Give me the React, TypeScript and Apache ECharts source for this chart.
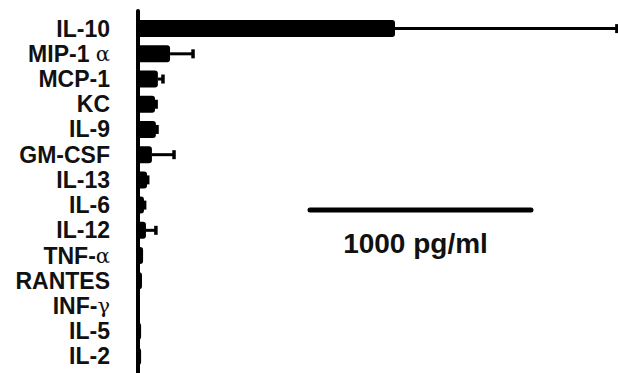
import React, { useEffect, useRef } from "react";
import * as echarts from "echarts";

const categories = [
  "IL-10", "MIP-1 α", "MCP-1", "KC", "IL-9", "GM-CSF", "IL-13",
  "IL-6", "IL-12", "TNF-α", "RANTES", "INF-γ", "IL-5", "IL-2",
];
const means = [1163, 145, 90, 77, 81, 63, 41, 27, 36, 23, 18, 9, 14, 14];
const errors = [1004, 104, 23, 5, 5, 100, 3, 3, 45, 0, 0, 0, 0, 0];
const scaleBarValue = 1000;
const scaleBarLabel = "1000 pg/ml";
const axisMax = 2172;

export default function App() {
  const ref = useRef<HTMLDivElement>(null);
  useEffect(() => {
    if (!ref.current) return;
    const chart = echarts.init(ref.current, null, { renderer: "svg" });
    const font = "'Liberation Sans', Arial, sans-serif";
    chart.setOption({
      animation: false,
      backgroundColor: "#ffffff",
      grid: { left: 138, right: 0, top: 16, bottom: 4, containLabel: false },
      xAxis: {
        type: "value",
        min: 0,
        max: axisMax,
        show: false,
      },
      yAxis: {
        type: "category",
        data: categories,
        inverse: true,
        axisLine: { show: false },
        axisTick: { show: false },
        axisLabel: {
          interval: 0,
          hideOverlap: false,
          margin: 28,
          fontFamily: font,
          fontWeight: "bold",
          fontSize: 23,
          lineHeight: 22,
          color: "#111",
          formatter: (v: string) => v.replace(/([αγ])/, "{g|$1}"),
          rich: {
            g: {
              fontFamily: "'DejaVu Serif', 'Liberation Serif', serif",
              fontWeight: "normal",
              fontSize: 21,
              lineHeight: 22,
              verticalAlign: "bottom",
              color: "#111",
            },
          },
        },
      },
      series: [
        {
          type: "bar",
          data: means,
          barWidth: 17,
          itemStyle: { color: "#000", borderRadius: [0, 3, 3, 0] },
          z: 2,
        },
        {
          type: "custom",
          data: means.map((m, i) => [m, i, m + errors[i]]),
          encode: { x: [0, 2], y: 1 },
          clip: false,
          z: 3,
          renderItem: (params: any, api: any) => {
            const lo = api.value(0);
            const hi = api.value(2);
            if (hi <= lo) return { type: "group", children: [] };
            const s = api.coord([lo, api.value(1)]);
            const e = api.coord([hi, api.value(1)]);
            return {
              type: "group",
              children: [
                {
                  type: "line",
                  shape: { x1: s[0], y1: s[1], x2: e[0], y2: e[1] },
                  style: { stroke: "#000", lineWidth: 3 },
                },
                {
                  type: "line",
                  shape: { x1: e[0], y1: e[1] - 4.5, x2: e[0], y2: e[1] + 4.5 },
                  style: { stroke: "#000", lineWidth: 3.5 },
                },
              ],
            };
          },
        },
      ],
    });
    const x0 = chart.convertToPixel({ xAxisIndex: 0 }, 0) as number;
    const x1 = chart.convertToPixel({ xAxisIndex: 0 }, scaleBarValue) as number;
    const barLen = x1 - x0;
    const barLeft = 310;
    chart.setOption({
      graphic: [
        {
          type: "line",
          shape: { x1: x0, y1: 11, x2: x0, y2: 373 },
          style: { stroke: "#000", lineWidth: 4, lineCap: "round" },
          z: 10,
        },
        {
          type: "line",
          shape: { x1: barLeft, y1: 210, x2: barLeft + barLen, y2: 210 },
          style: { stroke: "#000", lineWidth: 5, lineCap: "round" },
        },
        {
          type: "text",
          x: barLeft + barLen / 2 - 5,
          y: 243,
          style: {
            text: scaleBarLabel,
            fontFamily: font,
            fontWeight: "bold",
            fontSize: 28,
            fill: "#111",
            align: "center",
            verticalAlign: "middle",
          },
        },
      ],
    });
    return () => chart.dispose();
  }, []);
  return (
    <div
      ref={ref}
      style={{ position: "fixed", left: 0, top: 0, width: 618, height: 373 }}
    />
  );
}
